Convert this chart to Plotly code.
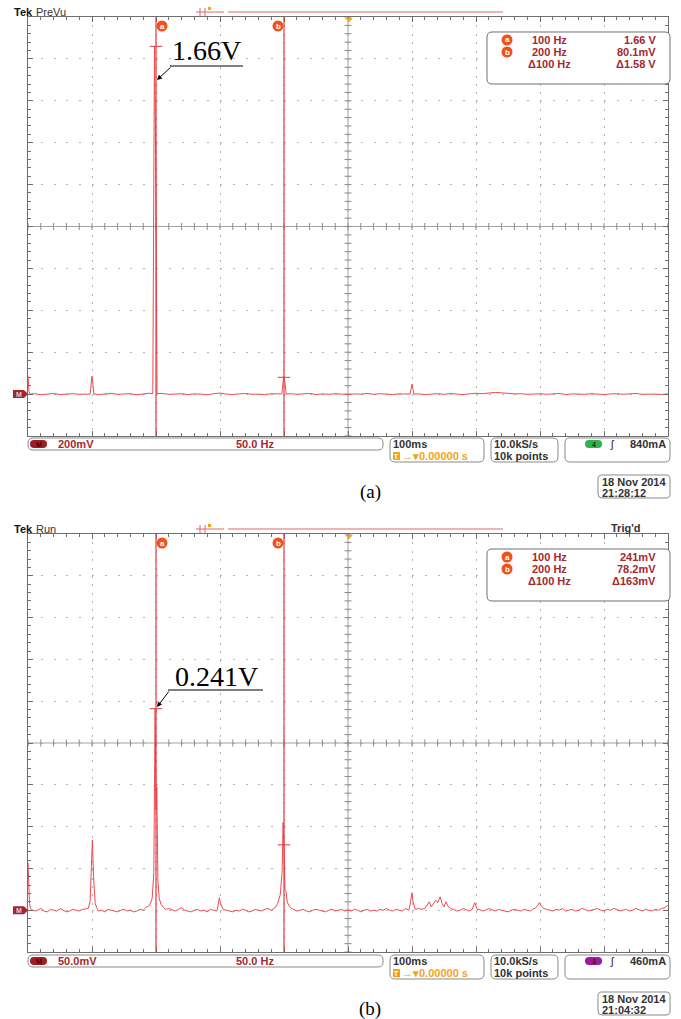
import numpy as np
import plotly.graph_objects as go

OX, OY = 0, 0
W, H = 681, 1019

# ---------------- data ----------------
freq_span = [0, 500]            # Hz, full screen width (10 div)
hz_per_div = 50
volts_per_div = [0.2, 0.05]     # panel (a), panel (b)
cursor_hz = [100, 200]
cursor_v_a = [1.66, 0.0801]
cursor_v_b = [0.241, 0.0782]
readout_a = [["100 Hz", "1.66 V"], ["200 Hz", "80.1mV"], ["\u0394100 Hz", "\u03941.58 V"]]
readout_b = [["100 Hz", "241mV"], ["200 Hz", "78.2mV"], ["\u0394100 Hz", "\u0394163mV"]]
peak_label = ["1.66V", "0.241V"]
scale_label = ["200mV", "50.0mV"]
status_mode = ["PreVu", "Run"]
trigger_ch = ["4", "3"]
trigger_ch_color = ["#2fb34a", "#9c1a9e"]
trigger_level = ["840mA", "460mA"]
date_line1 = ["18 Nov 2014", "18 Nov 2014"]
date_line2 = ["21:28:12", "21:04:32"]
panel_tag = ["(a)", "(b)"]

# panel (a): noise floor every 5 Hz (mV) + peaks (Hz, mV)
noise_step_a = 5.0
noise_a_mv = [0, 2, -3, 1, 3, -2, 0, 2, -1, 1,
              0, -2, 1, 3, -1, 0, 2, -3, 1, 4,
              0, 3, -1, 0, 2, -2, 1, 0, -3, 2,
              5, 0, -2, 1, 3, -1, 0, -3, 2, 1,
              0, 2, -1, 0, 3, -2, 1, -1, 2, 0,
              -2, 1, 0, 3, -1, 2, 0, -2, 1, 0,
              0, 1, -2, 0, 2, -1, 3, 0, -2, 1,
              4, 2, 6, 8, 6, 3, 1, 2, -1, 0,
              2, -1, 0, 3, -2, 1, 0, -1, 2, 0,
              -2, 1, 2, -1, 0, 3, -1, 1, 0, -2,
              1]
peaks_a_hz = [[0, 0.8, 1.6],
              [48.5, 50, 51.5],
              [97.5, 98.8, 99.8, 100.8],
              [198.3, 199.7, 200.6, 201.8],
              [298.5, 300, 301.5]]
peaks_a_mv = [[86, 12, 0],
              [0, 86, 1],
              [2, 1660, 1120, 3],
              [1, 84, 60, 0],
              [0, 48, 0]]

# panel (b): noise floor every 2.5 Hz (mV) + peaks (Hz, mV)
noise_step_b = 2.5
noise_b_mv = [0, 1, -1, 0, 2, -1, -2, 1, 0, -1, 2, 0, -2, -1, 1, 0, -1, 1, 2, 0,
              0, 1, -1, 0, -2, 1, 0, -1, -2, 0, 1, -1, 0, -2, -1, 1, 0, 2, 3, 5,
              0, 5, 3, 1, 2, 0, -1, 1, 3, 0, -1, -2, 0, 1, -1, 0, -2, 1, 0, -1,
              0, 1, 0, -1, -2, 0, -1, 1, 0, -2, -1, 1, 0, -1, 1, 2, 0, 3, 5, 8,
              0, 3, 0, 1, -1, 0, 1, -1, -2, 0, 1, 0, -1, -2, 0, 1, -1, 0, 1, -1,
              0, -1, 1, 0, -2, 0, 1, -1, 0, -1, 1, 0, 2, 0, -1, 1, 0, -1, 2, 0,
              0, 1, 2, 1, 0, -1, 3, 2, 1, 4, 2, 0, 3, 1, -1, 0, 2, 0, -1, 1,
              0, 1, -1, 0, 2, 0, -1, 1, 0, -1, -2, 0, 1, 0, -1, 1, 0, -1, 2, 3,
              0, 3, 1, 0, -1, 1, 0, 2, -1, 0, 1, -1, 0, 2, 1, -1, 0, 1, 2, 0,
              -1, 1, 0, 2, 1, -1, 0, 1, -1, 0, 2, 0, -1, 1, 0, -1, 1, 0, 2, 3,
              6]
peaks_b_hz = [[0, 0.6, 1.2, 2.0],
              [47, 48.5, 49.5, 50.3, 51.2, 52.5, 54],
              [92, 95, 97, 98.3, 99.3, 100.0, 100.6, 101.5, 102.5, 104, 106],
              [148, 149.5, 150.5, 152],
              [193, 195, 197, 198.5, 199.3, 200.0, 200.8, 201.6, 202.5, 204, 206],
              [298, 299.3, 300, 300.8, 302],
              [310, 312, 313.5, 315, 317, 318.5, 320, 322, 323.5, 325, 326.5, 328, 330],
              [347, 349, 351],
              [396, 398, 399.5, 401, 403]]
peaks_b_mv = [[57, 25, 8, 2],
              [2, 10, 45, 84, 40, 8, 2],
              [3, 6, 14, 45, 241, 120, 147, 35, 14, 7, 3],
              [1, 15, 8, 1],
              [3, 8, 18, 45, 105, 78, 24, 22, 10, 5, 2],
              [2, 12, 21, 10, 2],
              [2, 6, 10, 4, 8, 12, 9, 16, 8, 4, 10, 5, 2],
              [1, 9, 1],
              [2, 5, 9, 5, 2]]


def build_trace(step, noise, pk_hz, pk_mv):
    f = np.arange(len(noise)) * step
    keep = np.ones(len(f), bool)
    for g in pk_hz:
        keep &= ~((f >= g[0]) & (f <= g[-1]))
    ff = list(f[keep]) + [x for g in pk_hz for x in g]
    vv = list(np.array(noise, float)[keep]) + [x for g in pk_mv for x in g]
    order = np.argsort(ff, kind="stable")
    return np.array(ff)[order], np.array(vv)[order] / 1000.0


fa, va = build_trace(noise_step_a, noise_a_mv, peaks_a_hz, peaks_a_mv)
fb, vb = build_trace(noise_step_b, noise_b_mv, peaks_b_hz, peaks_b_mv)

# ---------------- styling / geometry (window pixels) ----------------
TRACE = "#f04a4f"
CURSOR = "#e33a3e"
GRID = "#b5b5b5"
FRAME = "#6e6e6e"
CENTER = "#a0a0a0"
TXT_RED = "#a4282f"
ORANGE = "#f5a31a"
CIRC = "#f0521e"
HDR = "#e06868"

LEFT, RIGHT = 28, 668
tops = [17, 534]
bots = [436, 952]
offs = [0, 517]


def px(x):
    return (x - OX) / W


def py(y):
    return 1 - (y - OY) / H


shapes = []
annotations = []


def P(x, y):
    return f"{px(x):.5f},{py(y):.5f}"


def rrect(x0, y0, x1, y1, r, line="#8a8a8a", fill="white", width=1):
    path = (f"M {P(x0 + r, y0)} L {P(x1 - r, y0)} Q {P(x1, y0)} {P(x1, y0 + r)} "
            f"L {P(x1, y1 - r)} Q {P(x1, y1)} {P(x1 - r, y1)} L {P(x0 + r, y1)} "
            f"Q {P(x0, y1)} {P(x0, y1 - r)} L {P(x0, y0 + r)} Q {P(x0, y0)} {P(x0 + r, y0)} Z")
    shapes.append(dict(type="path", xref="paper", yref="paper", path=path,
                       line=dict(color=line if line else fill, width=width if line else 0),
                       fillcolor=fill, layer="above"))


def pline(x0, y0, x1, y1, color, width=1):
    shapes.append(dict(type="line", xref="paper", yref="paper", x0=px(x0), y0=py(y0),
                       x1=px(x1), y1=py(y1), line=dict(color=color, width=width), layer="above"))


def circ(cx, cy, r, color):
    shapes.append(dict(type="circle", xref="paper", yref="paper", x0=px(cx - r), x1=px(cx + r),
                       y0=py(cy + r), y1=py(cy - r), fillcolor=color, line=dict(width=0), layer="above"))


def txt(x, y, s, size=11, color="#333", bold=False, anchor="left", family="Liberation Sans"):
    annotations.append(dict(x=px(x), y=py(y), xref="paper", yref="paper",
                            text=f"<b>{s}</b>" if bold else s, showarrow=False,
                            xanchor=anchor, yanchor="middle", borderpad=0,
                            font=dict(size=size, color=color, family=family)))


fig = go.Figure()
data_sets = [(fa, va, cursor_v_a, readout_a), (fb, vb, cursor_v_b, readout_b)]

for i, (f, v, cv, ro) in enumerate(data_sets):
    xa = "x" if i == 0 else "x2"
    ya = "y" if i == 0 else "y2"
    vpd = volts_per_div[i]
    ymin, ymax = -vpd, 9 * vpd
    ycen = 4 * vpd
    top, bot, o = tops[i], bots[i], offs[i]
    div_px = (bot - top) / 10.0
    base_px = bot - div_px

    def yval(ypix):
        return ymin + (bot - ypix) / (bot - top) * (ymax - ymin)

    # centre cross tick marks
    fig.add_trace(go.Scatter(x=np.arange(0, 501, 10), y=[ycen] * 51, mode="markers", xaxis=xa, yaxis=ya,
                             marker=dict(symbol="line-ns", size=5, line=dict(color="#8a8a8a", width=1)),
                             hoverinfo="skip"))
    fig.add_trace(go.Scatter(x=[250] * 51, y=np.linspace(ymin, ymax, 51), mode="markers", xaxis=xa, yaxis=ya,
                             marker=dict(symbol="line-ew", size=5, line=dict(color="#8a8a8a", width=1)),
                             hoverinfo="skip"))
    # spectrum
    fig.add_trace(go.Scatter(x=f, y=v, mode="lines", xaxis=xa, yaxis=ya,
                             line=dict(color=TRACE, width=1), hoverinfo="skip"))
    # cursor '+' markers
    fig.add_trace(go.Scatter(x=cursor_hz, y=cv, mode="markers", xaxis=xa, yaxis=ya,
                             marker=dict(symbol="line-ew", size=9, line=dict(color=CURSOR, width=1)),
                             hoverinfo="skip"))

    # centre lines
    shapes.append(dict(type="line", xref=xa, yref=f"{ya} domain", x0=250, x1=250, y0=0, y1=1,
                       line=dict(color=CENTER, width=1), layer="below"))
    shapes.append(dict(type="line", xref=f"{xa} domain", yref=ya, x0=0, x1=1, y0=ycen, y1=ycen,
                       line=dict(color=CENTER, width=1), layer="below"))
    # cursor lines
    for c in cursor_hz:
        shapes.append(dict(type="line", xref=xa, yref=f"{ya} domain", x0=c, x1=c, y0=0, y1=1,
                           line=dict(color=CURSOR, width=1.2), layer="above"))
    # cursor tags
    for lab, cx in zip(["a", "b"], [162, 278]):
        circ(cx, top + 9, 5.5, CIRC)
        txt(cx, top + 9, lab, 8, "white", True, "center")

    # header
    yh = top - 5
    txt(13, yh, "Tek", 11, "#111", True)
    txt(35, yh, status_mode[i], 11, "#333")
    pline(196, yh, 224, yh, HDR)
    pline(200, yh - 4, 200, yh + 4, HDR)
    pline(205, yh - 4, 205, yh + 4, HDR)
    pline(228, yh, 503, yh, HDR)
    shapes.append(dict(type="rect", xref="paper", yref="paper", x0=px(208), x1=px(211),
                       y0=py(yh - 2), y1=py(yh - 5), fillcolor=ORANGE, line=dict(width=0)))
    shapes.append(dict(type="path", xref="paper", yref="paper",
                       path=f"M {P(345, top + 1)} L {P(353, top + 1)} L {P(349, top + 5)} Z",
                       fillcolor=ORANGE, line=dict(width=0)))
    if i == 1:
        txt(610, yh - 1, "Trig'd", 11, "#333", True)

    # ground reference marker
    shapes.append(dict(type="path", xref="paper", yref="paper",
                       path=f"M {P(13, base_px - 4)} L {P(24, base_px - 4)} L {P(28, base_px)} "
                            f"L {P(24, base_px + 4)} L {P(13, base_px + 4)} Z",
                       fillcolor="#a3262c", line=dict(width=0)))
    txt(18.5, base_px, "M", 7, "#f3c4c4", True, "center")

    # readout box
    rrect(487, 32 + o, 670, 84 + o, 5, line="#707070")
    rows = [40 + o, 52 + o, 64 + o]
    for k, (fr, val) in enumerate(ro):
        if k < 2:
            circ(507, rows[k], 5.5, CIRC)
            txt(507, rows[k], "ab"[k], 8, "white", True, "center")
        txt(549, rows[k], fr, 11, TXT_RED, True, "center")
        txt(657, rows[k], val, 11, TXT_RED, True, "right")

    # peak annotation
    if i == 0:
        tail, head, ul, tc = (172, 66), (157, 80), (170, 243, 66), (206, 50)
    else:
        tail, head, ul, tc = (170, 690), (157, 707), (168, 263, 690), (216, 676)
    pline(ul[0], ul[2], ul[1], ul[2], "black", 1)
    annotations.append(dict(x=(head[0] - LEFT) / (RIGHT - LEFT) * 500, y=yval(head[1]), xref=xa, yref=ya,
                            ax=tail[0] - head[0], ay=tail[1] - head[1], axref="pixel", ayref="pixel",
                            text="", showarrow=True, arrowhead=2, arrowsize=1, arrowwidth=1,
                            arrowcolor="black", standoff=0))
    txt(tc[0], tc[1], peak_label[i], 28, "black", False, "center", "Liberation Serif")

    # status bar
    rrect(28, 438 + o, 383, 450 + o, 5)
    rrect(30, 440 + o, 47, 448 + o, 4, line=None, fill="#a11d24")
    txt(38.5, 444 + o, "M", 7, "#4a0a0e", True, "center")
    txt(57, 444 + o, scale_label[i], 11, TXT_RED, True)
    txt(235, 444 + o, "50.0 Hz", 11, TXT_RED, True)
    rrect(390, 438 + o, 484, 462 + o, 5)
    txt(392, 444 + o, "100ms", 11, "#333", True)
    shapes.append(dict(type="rect", xref="paper", yref="paper", x0=px(393), x1=px(400),
                       y0=py(460 + o), y1=py(452 + o), fillcolor=ORANGE, line=dict(width=0)))
    txt(396.5, 456 + o, "T", 7, "white", True, "center")
    txt(401, 456 + o, "\u2192\u25be0.00000 s", 11, ORANGE, True)
    rrect(491, 438 + o, 558, 462 + o, 5)
    txt(493, 444 + o, "10.0kS/s", 11, "#333", True)
    txt(493, 456 + o, "10k points", 11, "#333", True)
    rrect(565, 438 + o, 670, 462 + o, 5)
    rrect(585, 440 + o, 602, 448 + o, 4, line=None, fill=trigger_ch_color[i])
    txt(593.5, 444 + o, trigger_ch[i], 7, "#222", True, "center")
    txt(612, 444 + o, "\u0283", 11, "#222", False, "center")
    txt(667, 444 + o, trigger_level[i], 11, "#333", True, "right")

    # date box
    rrect(598, 475 + o, 670, 498 + o, 4)
    txt(601, 482 + o, date_line1[i], 11, "#333", True)
    txt(601, 493 + o, date_line2[i], 11, "#333", True)

    # panel tag
    txt(370, 492 + o, panel_tag[i], 19, "black", False, "center", "Liberation Serif")


def xaxis_cfg(i):
    return dict(domain=[px(LEFT), px(RIGHT)], range=freq_span, anchor="y" if i == 0 else "y2",
                showticklabels=False, showgrid=True, gridcolor=GRID, griddash="2px,6.38px", gridwidth=1,
                tick0=0, dtick=hz_per_div, zeroline=False, showline=True, linecolor=FRAME, linewidth=1,
                mirror="allticks", ticks="inside", ticklen=5, tickcolor=FRAME,
                minor=dict(dtick=hz_per_div / 5, ticks="inside", ticklen=3, tickcolor=FRAME, showgrid=False),
                fixedrange=True)


def yaxis_cfg(i):
    vpd = volts_per_div[i]
    return dict(domain=[py(bots[i]), py(tops[i])], range=[-vpd, 9 * vpd], anchor="x" if i == 0 else "x2",
                showticklabels=False, showgrid=True, gridcolor=GRID, griddash="2px,10.8px", gridwidth=1,
                tick0=0, dtick=vpd, zeroline=False, showline=True, linecolor=FRAME, linewidth=1,
                mirror="allticks", ticks="inside", ticklen=5, tickcolor=FRAME,
                minor=dict(dtick=vpd / 5, ticks="inside", ticklen=3, tickcolor=FRAME, showgrid=False),
                fixedrange=True)


fig.update_layout(
    width=W, height=H, autosize=False,
    margin=dict(l=0, r=0, t=0, b=0),
    paper_bgcolor="white", plot_bgcolor="white",
    showlegend=False,
    xaxis=xaxis_cfg(0), yaxis=yaxis_cfg(0),
    xaxis2=xaxis_cfg(1), yaxis2=yaxis_cfg(1),
    shapes=shapes, annotations=annotations,
    font=dict(family="Liberation Sans"),
)

fig.write_html("out.html", config={"displayModeBar": False, "staticPlot": True},
               post_script="document.body.style.margin='0px';")
